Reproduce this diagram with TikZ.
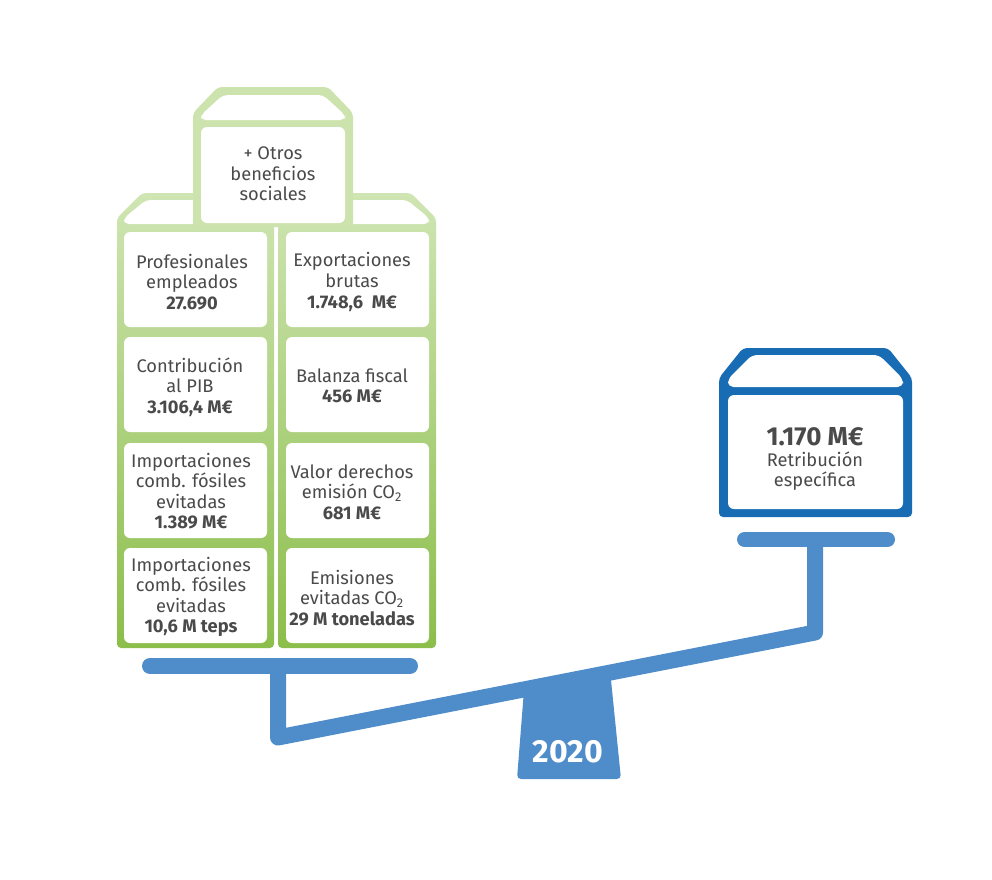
\documentclass[tikz,border=0pt]{standalone}
\usepackage{fontspec}
\setmainfont{Fira Sans}
\usepackage{tikz}

\definecolor{greentop}{HTML}{CFE5B3}
\definecolor{greenbot}{HTML}{8CBE4B}
\definecolor{greenlid}{HTML}{CDE3AE}
\definecolor{darkblue}{HTML}{176CB4}
\definecolor{scaleblue}{HTML}{4F8DCA}
\definecolor{txtgray}{HTML}{4A4A4A}

\tikzset{
  cell/.style={fill=white, rounded corners=4.5pt},
  txt/.style={font=\fontsize{13.7}{15.4}\selectfont, text=txtgray, align=center, inner sep=0pt},
  bar/.style={draw=scaleblue, line width=12pt, line cap=round},
}

\begin{document}
\begin{tikzpicture}[x=0.75pt, y=-0.75pt]
  \useasboundingbox (0,0) rectangle (992,879);

  % balance
  \draw [scaleblue, line width=12pt, line join=round] (278,666) -- (278,737.5) -- (815,632.5) -- (815,540);
  \fill [scaleblue, rounded corners=3pt] (524,690) -- (517,779) -- (621,779) -- (610,670) -- cycle;
  \draw [bar] (150,666) -- (410,666);
  \draw [bar, line width=11.25pt] (744.5,539.5) -- (887.5,539.5);
  \node [font=\fontsize{24}{28}\selectfont\bfseries, text=white, inner sep=0pt] (year) at (568,752) {2020};

  % green columns
  \shade [top color=greentop, bottom color=greenbot, rounded corners=3pt]
    (142,193) -- (249,193) -- (274,218) -- (274,648) -- (117,648) -- (117,218) -- cycle;
  \shade [top color=greentop, bottom color=greenbot, rounded corners=3pt]
    (303,193) -- (411,193) -- (436,218) -- (436,648) -- (278,648) -- (278,218) -- cycle;
  \fill [cell, rounded corners=3.5pt] (146,200) -- (245,200) -- (267,218) -- (267,224) -- (124,224) -- (124,218) -- cycle;
  \fill [cell, rounded corners=3.5pt] (307,200) -- (407,200) -- (429,218) -- (429,224) -- (286,224) -- (286,218) -- cycle;
  \foreach \t in {232,337,443,548} {
    \fill [cell] (124,\t) rectangle (267,\t+95);
    \fill [cell] (286,\t) rectangle (429,\t+95);
  }

  % top box
  \fill [greenlid, rounded corners=3pt] (218,87) -- (328,87) -- (353,113) -- (353,227) -- (193,227) -- (193,113) -- cycle;
  \fill [cell, rounded corners=3.5pt] (223,95) -- (323,95) -- (345,115) -- (345,120) -- (201,120) -- (201,115) -- cycle;
  \fill [cell] (201,127) rectangle (345,223);

  % blue box
  \fill [darkblue, rounded corners=3pt] (743,348) -- (888,348) -- (912,378) -- (912,517) -- (719,517) -- (719,378) -- cycle;
  \fill [cell, rounded corners=4pt] (752,355) -- (879,355) -- (903,379) -- (903,387) -- (728,387) -- (728,379) -- cycle;
  \fill [cell] (728,395) rectangle (903,509);

  % texts
  \node [txt] (otros) at (273,174) {+ Otros\\beneficios\\sociales};
  \node [txt] (prof) at (192,282) {Profesionales\\empleados\\\textbf{27.690}};
  \node [txt] (export) at (352,282) {Exportaciones\\brutas\\\textbf{1.748,6~~M€}};
  \node [txt] (pib) at (190,387) {Contribución\\al PIB\\\textbf{3.106,4 M€}};
  \node [txt] (fiscal) at (352,386) {Balanza fiscal\\\textbf{456 M€}};
  \node [txt] (impeuro) at (191,491) {Importaciones\\comb. fósiles\\evitadas\\\textbf{1.389 M€}};
  \node [txt] (co2val) at (352,492) {Valor derechos\\emisión CO\textsubscript{2}\\\textbf{681 M€}};
  \node [txt] (imptep) at (191,597) {Importaciones\\comb. fósiles\\evitadas\\\textbf{10,6 M teps}};
  \node [txt] (co2em) at (352,598) {Emisiones\\evitadas CO\textsubscript{2}\\\textbf{29 M toneladas}};
  \node [txt] (retrib) at (815,459) {{\fontsize{19.5}{22}\selectfont\bfseries 1.170 M€}\\Retribución\\específica};

\end{tikzpicture}
\end{document}
